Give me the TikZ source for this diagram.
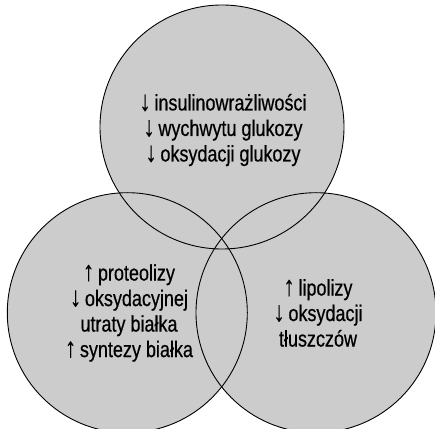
\documentclass[tikz,border=0pt]{standalone}
\usepackage{fontspec}
\setmainfont{Liberation Sans}[FakeStretch=0.8,FakeBold=0.5]
\newcommand{\arrup}{{\fontsize{28}{0}\selectfont ↑}\,}
\newcommand{\arrdn}{{\fontsize{28}{0}\selectfont ↓}\,}
\begin{document}
\begin{tikzpicture}[x=1pt,y=1pt,line width=0.9pt]
			\tikzset{ring/.style={fill=gray!40}, caption/.style={align=center,font=\fontsize{22.5}{25.5}\selectfont}}
			\useasboundingbox (0, 0) rectangle (435, 428);
			\clip (0, 0) rectangle (435, 428);
			\fill[ring] (222, 301) circle [radius=122];
			\fill[ring] (127.3, 115.3) circle [radius=120];
			\fill[ring] (316, 115.3) circle [radius=120];
			\draw (222, 301) circle [radius=122];
			\draw (127.3, 115.3) circle [radius=120];
			\draw (316, 115.3) circle [radius=120];
			\node[caption] (glucose) at (223, 298) {\arrdn insulinowrażliwości\\\arrdn wychwytu glukozy\\\arrdn oksydacji glukozy};
			\node[caption] (protein) at (129, 115) {\arrup proteolizy\\\arrdn oksydacyjnej\\utraty białka\\\arrup syntezy białka};
			\node[caption] (fat) at (318, 115) {\arrup lipolizy\\\arrdn oksydacji\\tłuszczów};
			\end{tikzpicture}
\end{document}
